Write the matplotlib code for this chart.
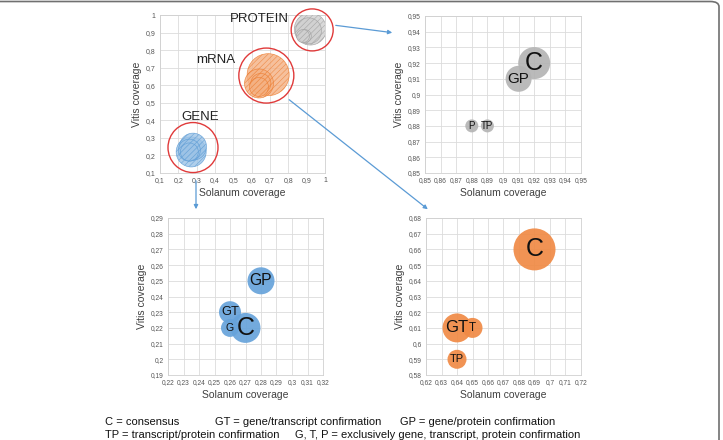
import numpy as np
import matplotlib
matplotlib.use('Agg')
from matplotlib import pyplot as plt
from matplotlib.ticker import FuncFormatter, MultipleLocator
from matplotlib.patches import FancyArrowPatch, FancyBboxPatch

plt.rcParams['font.family'] = ['Liberation Sans', 'DejaVu Sans']
plt.rcParams['hatch.linewidth'] = 0.4

# Data: (Solanum coverage, Vitis coverage), bubble size, label
gene_x = [0.26, 0.26, 0.28, 0.27]
gene_y = [0.22, 0.23, 0.25, 0.22]
gene_size = [18, 22, 27, 30]
gene_lab = ['G', 'GT', 'GP', 'C']

mrna_x = [0.64, 0.65, 0.64, 0.69]
mrna_y = [0.61, 0.61, 0.59, 0.66]
mrna_size = [29, 20, 19, 42]
mrna_lab = ['GT', 'T', 'TP', 'C']

prot_x = [0.88, 0.89, 0.91, 0.92]
prot_y = [0.88, 0.88, 0.91, 0.92]
prot_size = [13, 13, 26, 32]
prot_lab = ['P', 'TP', 'GP', 'C']

# cluster names and highlight circles in the overview
cluster_names = ['GENE', 'mRNA', 'PROTEIN']
cluster_name_x = [0.318, 0.405, 0.64]
cluster_name_y = [0.42, 0.744, 0.977]
ring_x = [0.28, 0.68, 0.93]
ring_y = [0.245, 0.655, 0.915]
ring_size = [50, 55, 42]

legend_lines = [
    [(105, 'C = consensus'), (215, 'GT = gene/transcript confirmation'), (400, 'GP = gene/protein confirmation')],
    [(105, 'TP = transcript/protein confirmation'), (295, 'G, T, P = exclusively gene, transcript, protein confirmation')],
]

blue = '#5B9BD5'
orange = '#ED7D31'
gray = '#B4B4B4'

W, H = 723, 440
fig = plt.figure(figsize=(7.23, 4.4), dpi=100)


def px_rect(x0, y0, x1, y1):
    return [x0 / W, 1 - y1 / H, (x1 - x0) / W, (y1 - y0) / H]


def fmt(v, pos):
    s = '{:.2f}'.format(v).rstrip('0').rstrip('.')
    return s.replace('.', ',')


def style_ax(ax, step):
    ax.xaxis.set_major_locator(MultipleLocator(step))
    ax.yaxis.set_major_locator(MultipleLocator(step))
    ax.xaxis.set_major_formatter(FuncFormatter(fmt))
    ax.yaxis.set_major_formatter(FuncFormatter(fmt))
    ax.grid(True, color='#dcdcdc', linewidth=0.6)
    ax.set_axisbelow(True)
    for sp in ax.spines.values():
        sp.set_color('#d0d0d0')
        sp.set_linewidth(0.6)
    ax.tick_params(length=0, labelsize=5, colors='#555555', pad=3)
    ax.set_xlabel('Solanum coverage', fontsize=7.5, color='#404040', labelpad=3)
    ax.set_ylabel('Vitis coverage', fontsize=7.5, color='#404040', labelpad=3)


def s_of(d):
    return (np.array(d) * 0.72) ** 2


# Overview panel
ax0 = fig.add_axes(px_rect(160, 15, 325, 173))
style_ax(ax0, 0.1)
ax0.set_xlim(0.1, 1.0)
ax0.set_ylim(0.1, 1.0)
for xs, ys, sz, col, ec in [(gene_x, gene_y, gene_size, '#9DC3E6', blue),
                            (mrna_x, mrna_y, mrna_size, '#F4B183', orange),
                            (prot_x, prot_y, prot_size, '#D0D0D0', '#A0A0A0')]:
    order = np.argsort(sz)[::-1]
    ax0.scatter(np.array(xs)[order], np.array(ys)[order], s=s_of(np.array(sz)[order]),
                facecolor=col, edgecolor=ec, linewidth=0.5, hatch='//////', alpha=0.8, zorder=3)
ax0.scatter(ring_x, ring_y, s=s_of(ring_size), facecolor='none', edgecolor='#E03A3A',
            linewidth=1.0, zorder=4, clip_on=False)
for name, x, y in zip(cluster_names, cluster_name_x, cluster_name_y):
    ax0.text(x, y, name, fontsize=9.5, ha='center', va='center', color='#222222', clip_on=False)

# Detail panels
panels = [
    (px_rect(425, 16, 581, 173), (0.85, 0.95), (0.85, 0.95), prot_x, prot_y, prot_size, prot_lab, gray),
    (px_rect(168, 218, 323, 375), (0.22, 0.32), (0.19, 0.29), gene_x, gene_y, gene_size, gene_lab, '#67A3DA'),
    (px_rect(426, 218, 581, 375), (0.62, 0.72), (0.58, 0.68), mrna_x, mrna_y, mrna_size, mrna_lab, '#F08A45'),
]
for rect, xl, yl, xs, ys, sz, labs, col in panels:
    ax = fig.add_axes(rect)
    style_ax(ax, 0.01)
    ax.set_xlim(*xl)
    ax.set_ylim(*yl)
    ax.tick_params(labelsize=4.8)
    ax.scatter(xs, ys, s=s_of(sz), color=col, alpha=0.92, linewidth=0, zorder=3)
    for x, y, d, lab in zip(xs, ys, sz, labs):
        fs = 18 if lab == 'C' else max(7, min(12, d * 0.42))
        ax.text(x, y, lab, fontsize=fs, ha='center', va='center', color='#111111', zorder=4)

# connector arrows (figure pixels)
arrows = [((333, 25), (395, 33)), ((287, 98), (430, 211)), ((196, 178), (196, 212))]
for (x0, y0), (x1, y1) in arrows:
    fig.add_artist(FancyArrowPatch((x0 / W, 1 - y0 / H), (x1 / W, 1 - y1 / H),
                                   transform=fig.transFigure, arrowstyle='-|>',
                                   mutation_scale=6, color=blue, linewidth=0.9))

# legend text
for row, yy in zip(legend_lines, [422, 435]):
    for x, t in row:
        fig.text(x / W, 1 - yy / H, t, fontsize=8, va='center', ha='left', color='#111111')

# outer frame
fig.add_artist(FancyBboxPatch((-0.05, -0.05), 0.05 + 719 / W, 0.05 + 1 - 1.5 / H,
                              boxstyle='round,pad=0,rounding_size=0.012',
                              transform=fig.transFigure, facecolor='none',
                              edgecolor='#707070', linewidth=1.2))

fig.savefig('out.png', dpi=100)
